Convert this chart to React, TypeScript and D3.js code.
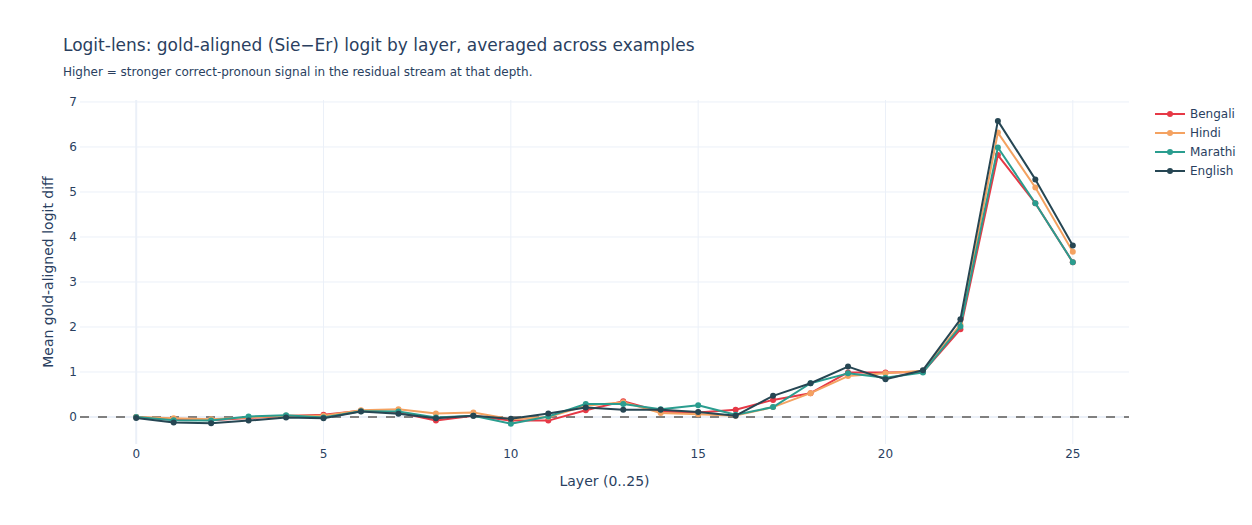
import React, { useEffect, useRef } from 'react';
import * as d3 from 'd3';

// layer index 0..25
const layers = d3.range(0, 26);

const bengali = [0.0, -0.05, -0.07, -0.02, 0.02, 0.05, 0.14, 0.1, -0.08, 0.03, -0.08, -0.08, 0.15, 0.35, 0.12, 0.1, 0.16, 0.38, 0.53, 0.99, 0.99, 1.0, 1.95, 5.82, 4.75, 3.44];
const hindi = [0.0, -0.03, -0.05, -0.01, 0.03, 0.03, 0.15, 0.17, 0.08, 0.1, -0.05, 0.0, 0.25, 0.33, 0.09, 0.06, 0.03, 0.22, 0.53, 0.91, 0.97, 1.03, 2.05, 6.32, 5.1, 3.67];
const marathi = [0.0, -0.07, -0.08, 0.01, 0.04, -0.01, 0.13, 0.12, -0.01, 0.03, -0.15, 0.01, 0.29, 0.29, 0.17, 0.26, 0.05, 0.22, 0.75, 0.97, 0.87, 0.99, 2.01, 5.99, 4.75, 3.44];
const english = [-0.02, -0.12, -0.14, -0.08, -0.01, -0.03, 0.12, 0.07, -0.03, 0.03, -0.04, 0.08, 0.21, 0.16, 0.16, 0.11, 0.03, 0.47, 0.75, 1.12, 0.84, 1.04, 2.17, 6.58, 5.28, 3.81];

const seriesNames = ['Bengali', 'Hindi', 'Marathi', 'English'];
const seriesColors = ['#e63946', '#f4a261', '#2a9d8f', '#264653'];
const seriesValues = [bengali, hindi, marathi, english];

const xTicks = [0, 5, 10, 15, 20, 25];
const yTicks = [0, 1, 2, 3, 4, 5, 6, 7];

const W = 1252;
const H = 525;
const FONT = '"DejaVu Sans", verdana, arial, sans-serif';
const TEXT = '#2a3f5f';

const LogitLensChart = () => {
  const svgRef = useRef<SVGSVGElement>(null);

  useEffect(() => {
    const svg = d3.select(svgRef.current);
    svg.selectAll('*').remove();

    const margin = { top: 100, right: 123, bottom: 81, left: 80 };
    const width = W - margin.left - margin.right;
    const height = H - margin.top - margin.bottom;

    svg.append('rect').attr('width', W).attr('height', H).attr('fill', '#fff');

    const x = d3.scaleLinear().domain([-1.5, 26.5]).range([0, width]);
    const y = d3.scaleLinear().domain([-0.6, 7.044]).range([height, 0]);

    const g = svg.append('g').attr('transform', `translate(${margin.left},${margin.top})`);

    // grid
    g.selectAll('.vgrid')
      .data(xTicks)
      .enter()
      .append('line')
      .attr('x1', d => x(d))
      .attr('x2', d => x(d))
      .attr('y1', 0)
      .attr('y2', height)
      .attr('stroke', '#ebf0f8')
      .attr('stroke-width', d => (d === 0 ? 2 : 1));

    g.selectAll('.hgrid')
      .data(yTicks)
      .enter()
      .append('line')
      .attr('x1', 0)
      .attr('x2', width)
      .attr('y1', d => y(d))
      .attr('y2', d => y(d))
      .attr('stroke', '#ebf0f8')
      .attr('stroke-width', d => (d === 0 ? 2 : 1));

    // tick labels
    g.selectAll('.xt')
      .data(xTicks)
      .enter()
      .append('text')
      .attr('x', d => x(d))
      .attr('y', height + 14)
      .attr('text-anchor', 'middle')
      .attr('font-family', FONT)
      .attr('font-size', 12)
      .attr('fill', TEXT)
      .text(d => d);

    g.selectAll('.yt')
      .data(yTicks)
      .enter()
      .append('text')
      .attr('x', -3)
      .attr('y', d => y(d) + 4)
      .attr('text-anchor', 'end')
      .attr('font-family', FONT)
      .attr('font-size', 12)
      .attr('fill', TEXT)
      .text(d => d);

    // dashed reference at zero
    g.append('line')
      .attr('x1', 0)
      .attr('x2', width)
      .attr('y1', y(0))
      .attr('y2', y(0))
      .attr('stroke', 'gray')
      .attr('stroke-width', 2)
      .attr('stroke-dasharray', '9,9');

    const line = d3.line<number>()
      .x((d, i) => x(layers[i]))
      .y(d => y(d));

    seriesValues.forEach((vals, si) => {
      g.append('path')
        .datum(vals)
        .attr('d', line)
        .attr('fill', 'none')
        .attr('stroke', seriesColors[si])
        .attr('stroke-width', 2)
        .attr('stroke-linejoin', 'round');
      g.selectAll(`.pt${si}`)
        .data(vals)
        .enter()
        .append('circle')
        .attr('cx', (d, i) => x(layers[i]))
        .attr('cy', d => y(d))
        .attr('r', 3)
        .attr('fill', seriesColors[si]);
    });

    // titles
    svg.append('text')
      .attr('x', 63)
      .attr('y', 51)
      .attr('font-family', FONT)
      .attr('font-size', 17)
      .attr('fill', TEXT)
      .text('Logit-lens: gold-aligned (Sie\u2212Er) logit by layer, averaged across examples');

    svg.append('text')
      .attr('x', 63)
      .attr('y', 76)
      .attr('font-family', FONT)
      .attr('font-size', 12)
      .attr('fill', TEXT)
      .text('Higher = stronger correct-pronoun signal in the residual stream at that depth.');

    svg.append('text')
      .attr('x', margin.left + width / 2)
      .attr('y', 486)
      .attr('text-anchor', 'middle')
      .attr('font-family', FONT)
      .attr('font-size', 14)
      .attr('fill', TEXT)
      .text('Layer (0..25)');

    svg.append('text')
      .attr('transform', `translate(53,${margin.top + height / 2}) rotate(-90)`)
      .attr('text-anchor', 'middle')
      .attr('font-family', FONT)
      .attr('font-size', 14)
      .attr('fill', TEXT)
      .text('Mean gold-aligned logit diff');

    // legend
    const legend = svg.append('g').attr('transform', 'translate(1155,114)');
    seriesNames.forEach((name, i) => {
      const row = legend.append('g').attr('transform', `translate(0,${i * 19})`);
      row.append('line')
        .attr('x1', 0)
        .attr('x2', 30)
        .attr('stroke', seriesColors[i])
        .attr('stroke-width', 2);
      row.append('circle').attr('cx', 15).attr('r', 3).attr('fill', seriesColors[i]);
      row.append('text')
        .attr('x', 35)
        .attr('y', 4)
        .attr('font-family', FONT)
        .attr('font-size', 12)
        .attr('fill', TEXT)
        .text(name);
    });
  }, []);

  return <svg ref={svgRef} width={W} height={H} style={{ display: 'block' }}></svg>;
};

export default function App() {
  return (
    <div style={{ margin: -8 }}>
      <LogitLensChart />
    </div>
  );
}
